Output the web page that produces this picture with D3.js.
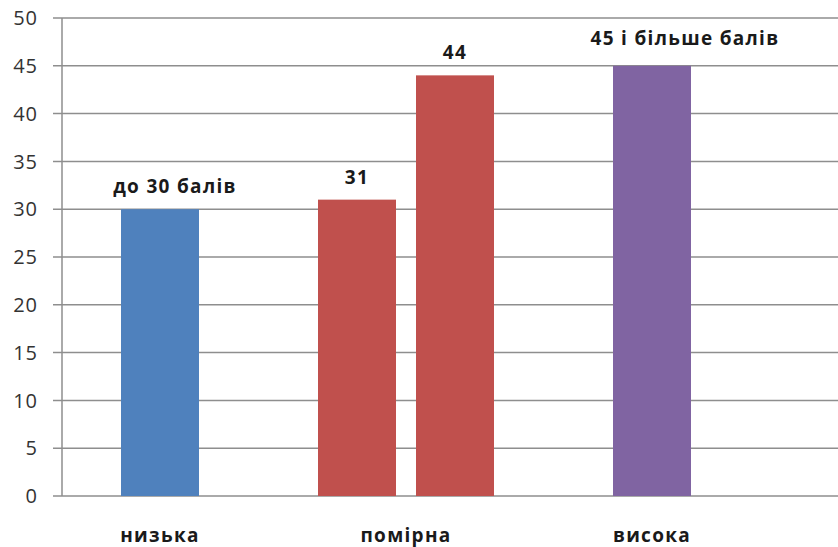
<!DOCTYPE html>
<html><head><meta charset="utf-8">
<script src="https://cdn.jsdelivr.net/npm/d3@7"></script>
<style>
html,body{margin:0;padding:0;background:#fff;}
svg{display:block;}
text{font-family:"Open Sans","Noto Sans",sans-serif;}
</style></head>
<body>
<script>
// ---- data ----
const categories = ["низька", "помірна", "висока"];
const barCategory = ["низька", "помірна", "помірна", "висока"];
const values = [30, 31, 44, 45];
const valueLabels = ["до 30 балів", "31", "44", "45 і більше балів"];
const yTicks = [0, 5, 10, 15, 20, 25, 30, 35, 40, 45, 50];
const barColors = ["#4F81BD", "#C0504D", "#C0504D", "#8064A2"];

const W = 838, H = 547;
const svg = d3.select("body").append("svg").attr("width", W).attr("height", H);

const axisX = 62, plotRight = 838;
const y = d3.scaleLinear().domain([0, 50]).range([496, 18]);
const xCat = d3.scaleBand().domain(categories).range([37, 775]);
const barW = 78, barGap = 20;

// bar x positions from category scale
const counts = {};
barCategory.forEach(c => counts[c] = (counts[c] || 0) + 1);
const seen = {};
const bars = values.map((v, i) => {
  const c = barCategory[i];
  const k = seen[c] = (seen[c] === undefined ? 0 : seen[c] + 1);
  const n = counts[c];
  const center = xCat(c) + xCat.bandwidth() / 2;
  const x0 = center + (k - (n - 1) / 2) * (barW + barGap) - barW / 2;
  return {v, x0, color: barColors[i], label: valueLabels[i], i};
});

// label nudges (layout only)
const labelDx = [15, 0, 0, 33];
const labelDy = [16, 16, 16, 21];

// gridlines
svg.append("g").selectAll("line").data(yTicks).join("line")
  .attr("x1", axisX - 9).attr("x2", plotRight)
  .attr("y1", d => y(d)).attr("y2", d => y(d))
  .attr("stroke", "#8e8e8e").attr("stroke-width", 1.5);

// y axis line
svg.append("line").attr("x1", axisX).attr("x2", axisX)
  .attr("y1", y(50)).attr("y2", y(0))
  .attr("stroke", "#8e8e8e").attr("stroke-width", 1.5);

// tick labels
svg.append("g").selectAll("text").data(yTicks).join("text")
  .attr("x", 38).attr("y", d => y(d)).attr("dy", "0.36em")
  .attr("text-anchor", "end").attr("font-size", 20).attr("fill", "#333")
  .attr("letter-spacing", 1)
  .text(d => d);

// bars
svg.append("g").selectAll("rect").data(bars).join("rect")
  .attr("x", d => d.x0).attr("width", barW)
  .attr("y", d => y(d.v)).attr("height", d => y(0) - y(d.v))
  .attr("fill", d => d.color);

// value labels
svg.append("g").selectAll("text").data(bars).join("text")
  .attr("x", d => d.x0 + barW / 2 + labelDx[d.i])
  .attr("y", d => y(d.v) - labelDy[d.i])
  .attr("text-anchor", "middle").attr("font-size", 19).attr("font-weight", "bold")
  .attr("letter-spacing", 1.3)
  .attr("fill", "#1a1a1a")
  .text(d => d.label);

// category labels
svg.append("g").selectAll("text").data(categories).join("text")
  .attr("x", d => xCat(d) + xCat.bandwidth() / 2)
  .attr("y", 542)
  .attr("text-anchor", "middle").attr("font-size", 19).attr("font-weight", "bold")
  .attr("letter-spacing", 1.3)
  .attr("fill", "#1a1a1a")
  .text(d => d);
</script>
</body></html>
